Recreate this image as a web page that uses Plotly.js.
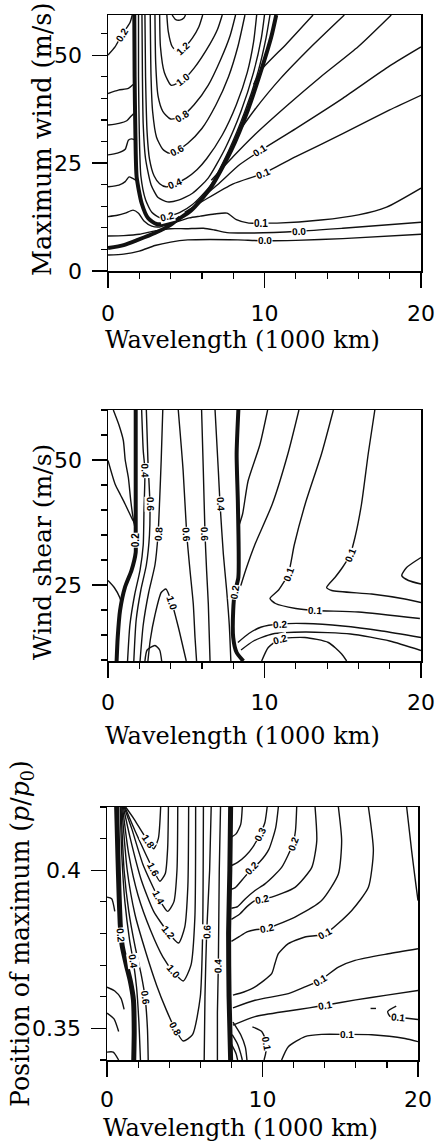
<!DOCTYPE html>
<html><head><meta charset="utf-8">
<script src="https://cdn.plot.ly/plotly-3.0.1.min.js"></script>
<style>html,body{margin:0;padding:0;background:#fff;}#chart{width:437px;height:1144px;}</style>
</head><body><div id="chart"></div>
<script>
// ---------- tick values / labels ----------
const xTickVals = [0, 10, 20];
const xTickText = ["0", "10", "20"];
const y1TickVals = [0, 25, 50];
const y1TickText = ["0", "25", "50"];
const y2TickVals = [25, 50];
const y2TickText = ["25", "50"];
const y3TickVals = [0.35, 0.4];
const y3TickText = ["0.35", "0.4"];

// ---------- Panel 1: maximum wind vs wavelength (contour lines, [x, y]) ----------
const p1_thickU = [[1.68,59.3],[1.7,45],[1.75,32],[1.83,21.8],[2.15,15.7],[2.57,12.2],[3.1,10.9],[4.06,11.2],[5.33,14.1],[6.6,19.5],[7.88,28],[8.94,37.3],[9.79,46.5],[10.43,54.2],[10.75,59.3]];
const p1_thickLow = [[0,5.3],[1.0,6.0],[1.9,7.2],[3.0,8.8],[4.0,10.7],[4.6,12.4]];
const p1_L1 = [[0,50],[0.45,51.9],[0.87,54.6],[1.4,57.5],[1.55,59.3]];
const p1_L2 = [[0,41.1],[0.66,41.9],[1.3,42.3],[1.6,43.2]];
const p1_L3 = [[0,33.8],[0.7,34.2],[1.2,34.8],[1.45,35.8],[1.65,36.5]];
const p1_L4 = [[0,26.9],[0.6,27.3],[1.1,28.2],[1.3,30.3],[1.5,30.6],[1.72,30.4]];
const p1_L5 = [[0,19.5],[0.7,19.9],[1.1,20.7],[1.35,21.8],[1.55,21.5],[1.8,21]];
const p1_F6 = [[0,12.6],[0.6,12.9],[1.1,13.4],[1.6,14.1],[1.95,13.4],[2.3,11.6],[2.8,10.4],[3.3,10.2],[4.3,11.3],[5.2,12.3],[5.9,12.7],[6.8,13.2],[7.6,13.4],[8.2,11.9],[9.0,11.1],[9.8,11.1],[10.8,11.1],[13.6,11.8],[16,13],[17.8,14.8],[20,19.2]];
const p1_F7 = [[0,8.1],[1.0,8.2],[2.0,8.5],[3.0,9.3],[4.0,9.8],[5.0,9.8],[6.1,9.9],[6.8,9.5],[7.6,8.9],[9.2,8.8],[12.2,9.2],[15,9.9],[20,11.3]];
const p1_F8 = [[0,3.7],[1.0,3.9],[2.0,4.6],[3.0,5.9],[4.0,6.7],[5.1,7.2],[6.5,7.3],[8.3,7.2],[10,7.0],[12,7.1],[15,7.5],[20,8.5]];
const p1_F1 = [[9.3,43.2],[9.8,46.6],[11.4,52.6],[13.1,59.3]];
const p1_F2 = [[8.5,33],[9.36,37.3],[11,44.5],[13,52],[15.1,59.3]];
const p1_F3 = [[6.6,21],[8,26.5],[9.36,31.5],[11.5,38.5],[13.6,45],[16,52],[18.1,59.3]];
const p1_F4 = [[5.6,15.8],[7,20],[8.4,24.6],[9.7,27.8],[12,33],[15,40],[18,47.5],[20,51.9]];
const p1_F5 = [[4.9,13.6],[6.2,16.5],[8,20.2],[9.9,22.6],[12,26.5],[15,31.8],[18,37.3],[20,40.7]];
const p1_U02 = [[1.95,59.3],[1.95,45],[2.0,32],[2.1,22],[2.4,16.5],[2.8,13.6],[3.3,12.4],[3.8,12.7],[4.6,13.6],[5.4,15.4],[6.5,19.6],[7.7,27.8],[8.75,37],[9.6,46.3],[10.1,54],[10.35,59.3]];
const p1_U03 = [[2.17,59.3],[2.2,45],[2.25,34],[2.4,26],[2.75,20],[3.2,17],[3.8,16],[4.5,16.4],[5.4,18],[6.4,21.5],[7.5,28.5],[8.5,37],[9.3,46],[9.8,54],[10.0,59.3]];
const p1_U04 = [[2.36,59.3],[2.4,45],[2.5,32],[2.65,26],[2.95,22],[3.3,20.2],[3.7,19.5],[4.3,20.2],[5.0,21.5],[5.7,23.5],[6.3,26],[7.3,31.5],[8.2,38.5],[8.9,46],[9.3,53],[9.5,59.3]];
const p1_U06 = [[2.7,59.3],[2.75,45],[2.85,37],[3.1,31],[3.5,28.2],[3.9,27.3],[4.4,27.9],[5.1,29.6],[6.0,33],[6.9,38.5],[7.7,45],[8.3,52],[8.75,59.3]];
const p1_U08 = [[3.0,59.3],[3.05,48],[3.2,40.5],[3.5,37],[4.0,35.2],[4.7,35.8],[5.5,38.5],[6.4,43],[7.2,49],[7.8,54.5],[8.15,59.3]];
const p1_U10 = [[3.3,59.3],[3.35,52],[3.6,46],[4.05,43],[4.8,44.3],[5.5,47],[6.5,52.5],[7.0,56],[7.3,59.3]];
const p1_U12 = [[3.76,59.3],[3.85,55.5],[4.1,52],[4.45,50.8],[4.8,51.5],[5.4,54],[5.8,56.5],[6.05,59.3]];
const p1_Utop = [[4.1,59.3],[4.3,58.3],[4.6,58.1],[4.85,58.6],[4.95,59.3]];
// labels: [line, vertex index, text]
const p1_labels = [["L1",2,"0.2"],["U02",7,"0.2"],["U04",7,"0.4"],["U06",6,"0.6"],["U08",5,"0.8"],["U10",4,"1.0"],["U12",4,"1.2"],["F4",3,"0.1"],["F5",3,"0.1"],["F6",15,"0.1"],["F7",10,"0.0"],["F8",8,"0.0"]];

// ---------- Panel 2: wind shear vs wavelength ----------
const p2_thickL = [[1.77,60],[1.77,48],[1.77,37],[1.77,33.9],[1.77,31.5],[1.5,27.9],[1.09,24.6],[0.77,19.9],[0.62,14.5],[0.55,9.8]];
const p2_thickR = [[8.33,60],[8.22,51.2],[8.3,41.2],[8.33,26.5],[8.1,23.5],[8.0,19.9],[8.0,14.5],[8.22,11.5],[8.65,9.8]];
const p2_W1 = [[0.34,60],[0.7,57],[0.98,53.9],[1.1,50],[1.3,46.5],[1.45,42],[1.6,38.5],[1.75,36]];
const p2_W2 = [[0,49.9],[0.45,45.2],[0.8,43],[1.09,41.2],[1.5,38.5],[1.75,37]];
const p2_W3 = [[0,25.9],[0.4,24.5],[0.75,22.5],[0.87,21.2]];
const p2_M1 = [[2.15,60],[2.25,52],[2.36,47.9],[2.3,40],[2.25,33],[2.05,28],[1.7,23],[1.4,17],[1.25,9.8]];
const p2_M2 = [[2.45,60],[2.55,50],[2.68,41.2],[2.65,35],[2.45,29],[2.1,24],[1.8,18],[1.65,9.8]];
const p2_M3 = [[3.5,60],[3.4,50],[3.3,42],[3.2,35.2],[3.0,29],[2.6,23.5],[2.25,17],[2.05,9.8]];
const p2_M4 = [[2.55,9.8],[2.7,14],[3.0,19],[3.4,23.5],[3.7,24.2],[4.07,21.5],[4.5,16.5],[4.8,12.5],[5.0,9.8]];
const p2_S = [[2.36,9.8],[2.5,12],[3.0,12.9],[3.3,12],[3.43,9.8]];
const p2_M5 = [[4.49,60],[4.8,47.9],[5.03,35.2],[5.24,27.9],[5.45,21.2],[5.56,14.5],[5.66,9.8]];
const p2_M6 = [[5.98,60],[6.09,47.9],[6.2,35.2],[6.3,27.9],[6.41,21.2],[6.52,9.8]];
const p2_M7 = [[6.84,60],[7.05,47.9],[7.16,41.2],[7.37,31.2],[7.58,24],[7.75,17],[7.85,9.8]];
const p2_Ra = [[10.2,60],[9.7,53],[8.95,45.8],[8.6,39.2],[8.38,37]];
const p2_Rb = [[12.2,60],[11.5,51.3],[10.5,41.2],[9.4,33.2],[8.8,28],[8.45,24.5]];
const p2_V1 = [[14.4,60],[13.65,51.3],[12.6,41.2],[11.9,33],[11.52,27.2],[10.9,24],[10.35,22.3],[10.7,21.3],[12,20.3],[13.2,19.9],[16,19.6],[19.93,18.3]];
const p2_V2 = [[17.05,60],[16.63,51.3],[16.2,41.2],[15.78,34.5],[15.46,31],[15,28.6],[14.5,26.5],[13.97,24.5],[14.3,23.9],[16.84,23.2],[18.97,22.2],[20,21.5]];
const p2_B = [[20,30.5],[19.08,28.5],[18.77,26.9],[19.2,25.9],[20,25.2]];
const p2_H1 = [[8.3,13.5],[9.0,15.3],[9.8,16.6],[10.99,17.2],[12.6,17.3],[15,16.8],[17.5,15.8],[20,14.5]];
const p2_H2 = [[8.5,12],[9.3,13.8],[10.5,15.2],[12.6,15.6],[15.5,15.2],[18,13.8],[20,11.9]];
const p2_C02 = [[9.82,9.8],[10.24,12.5],[10.99,14.2],[12.58,14.5],[14.08,13.5],[14.93,11.2],[15.25,9.8]];
const p2_labels = [["thickL",3,"0.2"],["thickR",4,"0.2"],["M1",2,"0.4"],["M2",2,"0.6"],["M3",3,"0.8"],["M4",5,"1.0"],["M5",2,"0.6"],["M6",2,"0.6"],["M7",2,"0.4"],["V1",4,"0.1"],["V1",9,"0.1"],["V2",4,"0.1"],["H1",3,"0.2"],["C02",2,"0.2"]];

// ---------- Panel 3: position of maximum vs wavelength ----------
const p3_thickL = [[0.62,0.42],[0.7,0.405],[0.78,0.392],[0.85,0.383],[0.9,0.3795],[0.98,0.376],[1.25,0.370],[1.5,0.365],[1.7,0.359],[1.75,0.349],[1.72,0.34]];
const p3_thickR = [[7.95,0.42],[7.9,0.40],[7.82,0.38],[7.85,0.36],[7.95,0.34]];
const p3_U18 = [[1.2,0.42],[1.7,0.4165],[2.2,0.4125],[2.65,0.4091],[3.0,0.4068],[3.3,0.41],[3.45,0.42]];
const p3_U16 = [[1.15,0.42],[1.8,0.4125],[2.5,0.405],[2.97,0.4002],[3.4,0.3965],[3.75,0.399],[3.9,0.407],[3.95,0.42]];
const p3_U14 = [[1.1,0.42],[1.6,0.413],[2.3,0.402],[3.3,0.3913],[3.9,0.387],[4.3,0.39],[4.5,0.40],[4.55,0.42]];
const p3_U12 = [[1.05,0.42],[1.5,0.41],[2.2,0.397],[3.0,0.387],[3.94,0.3803],[4.6,0.377],[5.0,0.382],[5.2,0.395],[5.25,0.42]];
const p3_U10 = [[1.0,0.42],[1.4,0.405],[2.0,0.392],[2.8,0.381],[3.6,0.3725],[4.26,0.3679],[4.9,0.365],[5.4,0.37],[5.65,0.385],[5.7,0.42]];
const p3_U08 = [[0.95,0.42],[1.3,0.40],[1.8,0.386],[2.5,0.374],[3.2,0.3635],[3.8,0.356],[4.37,0.3499],[4.9,0.346],[5.5,0.348],[6.0,0.36],[6.15,0.38],[6.2,0.42]];
const p3_P06L = [[0.9,0.42],[1.1,0.40],[1.4,0.387],[1.8,0.376],[2.2,0.367],[2.45,0.3597],[2.6,0.35],[2.65,0.34]];
const p3_P04L = [[0.85,0.42],[0.95,0.405],[1.15,0.39],[1.45,0.378],[1.69,0.3712],[1.9,0.363],[2.05,0.352],[2.15,0.34]];
const p3_P06R = [[6.7,0.42],[6.6,0.40],[6.41,0.3804],[6.3,0.36],[6.25,0.34]];
const p3_P04R = [[7.3,0.42],[7.22,0.40],[7.16,0.3698],[7.1,0.355],[7.1,0.34]];
const p3_LL1 = [[0,0.3915],[0.3,0.391],[0.5,0.387]];
const p3_LL2 = [[0,0.363],[0.5,0.3618],[0.9,0.3595],[1.1,0.356]];
const p3_LL3 = [[0,0.3548],[0.45,0.353],[0.75,0.349]];
const p3_LL4 = [[0,0.3425],[0.4,0.3425],[0.75,0.34]];
const p3_a0 = [[8.7,0.42],[8.6,0.4145],[8.3,0.4115],[8.0,0.4105]];
const p3_a1 = [[10.3,0.42],[10.15,0.415],[9.84,0.4114],[9.4,0.4075],[8.9,0.4045],[8.4,0.4025],[8.0,0.4015]];
const p3_a2 = [[11.02,0.42],[10.85,0.4135],[10.4,0.4065],[9.8,0.4025],[9.3,0.4004],[8.7,0.397],[8.25,0.3945],[8.0,0.394]];
const p3_a3 = [[12.2,0.42],[12.12,0.4125],[11.95,0.4083],[11.23,0.4009],[10.16,0.3957],[9.52,0.3936],[8.9,0.391],[8.4,0.3885],[8.0,0.388]];
const p3_a4 = [[13.38,0.42],[13.49,0.4093],[13.17,0.4009],[12.09,0.3946],[10.59,0.3915],[9.95,0.3908],[9.52,0.3904],[9.0,0.3885],[8.5,0.386],[8.0,0.3845]];
const p3_a5 = [[14.88,0.42],[15.09,0.4093],[14.88,0.3988],[13.8,0.3904],[12.09,0.3852],[10.8,0.3825],[10.27,0.3815],[9.52,0.3812],[9.0,0.3805],[8.5,0.379],[8.0,0.3775]];
const p3_a6 = [[16.81,0.42],[17.13,0.4062],[16.81,0.3946],[15.74,0.3873],[14.02,0.3799],[12.73,0.3789],[11.66,0.3768],[11.02,0.3736],[10.8,0.3705],[10.59,0.3673],[9.52,0.3631],[8.8,0.3615],[8.1,0.3605]];
const p3_a7 = [[19.27,0.42],[19.59,0.4062],[19.85,0.396],[20,0.3904]];
const p3_B = [[8.1,0.3565],[9.52,0.3589],[11.66,0.361],[12.73,0.3631],[13.7,0.3652],[14.88,0.3694],[15.95,0.3715],[18.09,0.3736],[20,0.3752]];
const p3_C = [[8.1,0.351],[9.52,0.3537],[11.66,0.3555],[13.0,0.3565],[14.02,0.3573],[16,0.359],[18,0.3605],[20,0.362]];
const p3_small = [[18.6,0.357],[18.05,0.3553],[18.2,0.3538],[18.73,0.3535],[20,0.3528]];
const p3_dash = [[16.95,0.3563],[17.3,0.3563]];
const p3_D = [[11.23,0.34],[11.66,0.3442],[12.73,0.3474],[13.8,0.3481],[15.41,0.3481],[17.02,0.348],[19.16,0.3468],[20,0.3458]];
const p3_E = [[9.35,0.3505],[9.95,0.349],[10.27,0.3453],[10.2,0.342],[10.1,0.34]];
const p3_F1 = [[8.1,0.352],[8.6,0.348],[8.9,0.344],[9.0,0.34]];
const p3_F2 = [[8.05,0.348],[8.4,0.345],[8.6,0.342],[8.7,0.34]];
const p3_F3 = [[8.0,0.345],[8.3,0.342],[8.4,0.34]];
const p3_labels = [["thickL",4,"0.2"],["U18",3,"1.8"],["U16",3,"1.6"],["U14",3,"1.4"],["U12",4,"1.2"],["U10",5,"1.0"],["U08",6,"0.8"],["P06L",5,"0.6"],["P04L",4,"0.4"],["P06R",2,"0.6"],["P04R",2,"0.4"],["a1",2,"0.3"],["a2",4,"0.2"],["a3",2,"0.2"],["a4",5,"0.2"],["a5",6,"0.2"],["a6",4,"0.1"],["B",4,"0.1"],["C",4,"0.1"],["small",3,"0.1"],["D",4,"0.1"],["E",2,"0.1"]];

// ---------- build ----------
const W = 437, H = 1144;
const panels = [
  {xa:"x", ya:"y", px:[108,421], py:[15,271], yr:[0,59.3], yt:[y1TickVals,y1TickText], ydt:5, y0:0,
   thick:{thickU:p1_thickU, thickLow:p1_thickLow},
   thin:{L1:p1_L1,L2:p1_L2,L3:p1_L3,L4:p1_L4,L5:p1_L5,F6:p1_F6,F7:p1_F7,F8:p1_F8,F1:p1_F1,F2:p1_F2,F3:p1_F3,F4:p1_F4,F5:p1_F5,U02:p1_U02,U03:p1_U03,U04:p1_U04,U06:p1_U06,U08:p1_U08,U10:p1_U10,U12:p1_U12,Utop:p1_Utop},
   labels:p1_labels, title:"Maximum wind (m/s)", tsize:25.5, tx:42, ty:140, xtY:340, xso:7},
  {xa:"x2", ya:"y2", px:[108,421], py:[410,661], yr:[9.8,60], yt:[y2TickVals,y2TickText], ydt:5, y0:0,
   thick:{thickL:p2_thickL, thickR:p2_thickR},
   thin:{W1:p2_W1,W2:p2_W2,W3:p2_W3,M1:p2_M1,M2:p2_M2,M3:p2_M3,M4:p2_M4,S:p2_S,M5:p2_M5,M6:p2_M6,M7:p2_M7,Ra:p2_Ra,Rb:p2_Rb,V1:p2_V1,V2:p2_V2,B:p2_B,H1:p2_H1,H2:p2_H2,C02:p2_C02},
   labels:p2_labels, title:"Wind shear (m/s)", tsize:25, tx:42, ty:552, xtY:736, xso:6},
  {xa:"x3", ya:"y3", px:[107,418], py:[807,1060], yr:[0.34,0.42], yt:[y3TickVals,y3TickText], ydt:0.01, y0:0,
   thick:{thickL:p3_thickL, thickR:p3_thickR},
   thin:{U18:p3_U18,U16:p3_U16,U14:p3_U14,U12:p3_U12,U10:p3_U10,U08:p3_U08,P06L:p3_P06L,P04L:p3_P04L,P06R:p3_P06R,P04R:p3_P04R,LL1:p3_LL1,LL2:p3_LL2,LL3:p3_LL3,LL4:p3_LL4,a0:p3_a0,a1:p3_a1,a2:p3_a2,a3:p3_a3,a4:p3_a4,a5:p3_a5,a6:p3_a6,a7:p3_a7,B:p3_B,C:p3_C,small:p3_small,dash:p3_dash,D:p3_D,E:p3_E,F1:p3_F1,F2:p3_F2,F3:p3_F3},
   labels:p3_labels, title:"Position of maximum (<i>p</i>/<i>p</i><sub>0</sub>)", tsize:25.2, tx:22, ty:934, xtY:1128, xso:4}
];

const traces = [];
const annotations = [];
const layout = {width:W, height:H, margin:{l:0,r:0,t:0,b:0}, paper_bgcolor:"#fff", plot_bgcolor:"#fff", showlegend:false};

function lineTrace(pts, xa, ya, w) {
  return {type:"scatter", mode:"lines", x:pts.map(p=>p[0]), y:pts.map(p=>p[1]), xaxis:xa, yaxis:ya,
    line:{color:"#111", width:w, shape:"spline", smoothing:0.6}, hoverinfo:"skip", showlegend:false};
}

panels.forEach((P, k) => {
  const sx = (P.px[1]-P.px[0])/20, sy = (P.py[1]-P.py[0])/(P.yr[1]-P.yr[0]);
  const all = Object.assign({}, P.thin, P.thick);
  Object.values(P.thin).forEach(pts => traces.push(lineTrace(pts, P.xa, P.ya, 1.4)));
  Object.values(P.thick).forEach(pts => traces.push(lineTrace(pts, P.xa, P.ya, k===2?5:4)));
  P.labels.forEach(([name, i, txt]) => {
    const pts = all[name];
    const a = pts[Math.max(i-1,0)], b = pts[Math.min(i+1,pts.length-1)];
    let th = Math.atan2((b[1]-a[1])*sy, (b[0]-a[0])*sx)*180/Math.PI;
    if (th > 90) th -= 180;
    if (th <= -90) th += 180;
    annotations.push({xref:P.xa, yref:P.ya, x:pts[i][0], y:pts[i][1], text:txt, showarrow:false,
      textangle:-th, font:{family:"Liberation Sans", size:10, color:"#000", weight:"bold"},
      bgcolor:"#fff", borderpad:0});
  });
  const sfx = k===0 ? "" : String(k+1);
  const axBase = {showline:true, linecolor:"#000", linewidth:1.5, mirror:true, ticks:"outside",
    tickcolor:"#000", tickwidth:1.3, ticklen:15, showgrid:false, zeroline:false,
    tickfont:{family:"DejaVu Sans", size:22, color:"#000"}, fixedrange:true};
  layout["xaxis"+sfx] = Object.assign({}, axBase, {domain:[P.px[0]/W, P.px[1]/W], range:[0,20],
    anchor:"y"+sfx, tickmode:"array", tickvals:xTickVals, ticktext:xTickText, ticklabelstandoff:P.xso,
    minor:{tickmode:"linear", tick0:0, dtick:2, ticks:"outside", ticklen:6, tickwidth:1.2, tickcolor:"#000", showgrid:false}});
  layout["yaxis"+sfx] = Object.assign({}, axBase, {domain:[1-P.py[1]/H, 1-P.py[0]/H], range:P.yr,
    anchor:"x"+sfx, tickmode:"array", tickvals:P.yt[0], ticktext:P.yt[1], ticklabelstandoff:5,
    minor:{tickmode:"linear", tick0:P.y0, dtick:P.ydt, ticks:"outside", ticklen:6, tickwidth:1.2, tickcolor:"#000", showgrid:false}});
  annotations.push({xref:"paper", yref:"paper", x:P.tx/W, y:1-P.ty/H, xanchor:"center", yanchor:"middle",
    text:P.title, textangle:-90, showarrow:false, font:{family:"DejaVu Serif", size:P.tsize, color:"#000"}});
  annotations.push({xref:"paper", yref:"paper", x:((P.px[0]+P.px[1])/2 - 22)/W, y:1-P.xtY/H, xanchor:"center", yanchor:"middle",
    text:"Wavelength (1000 km)", showarrow:false, font:{family:"DejaVu Serif", size:24, color:"#000"}});
});
layout.annotations = annotations;
Plotly.newPlot("chart", traces, layout, {staticPlot:true, displayModeBar:false});
</script></body></html>
